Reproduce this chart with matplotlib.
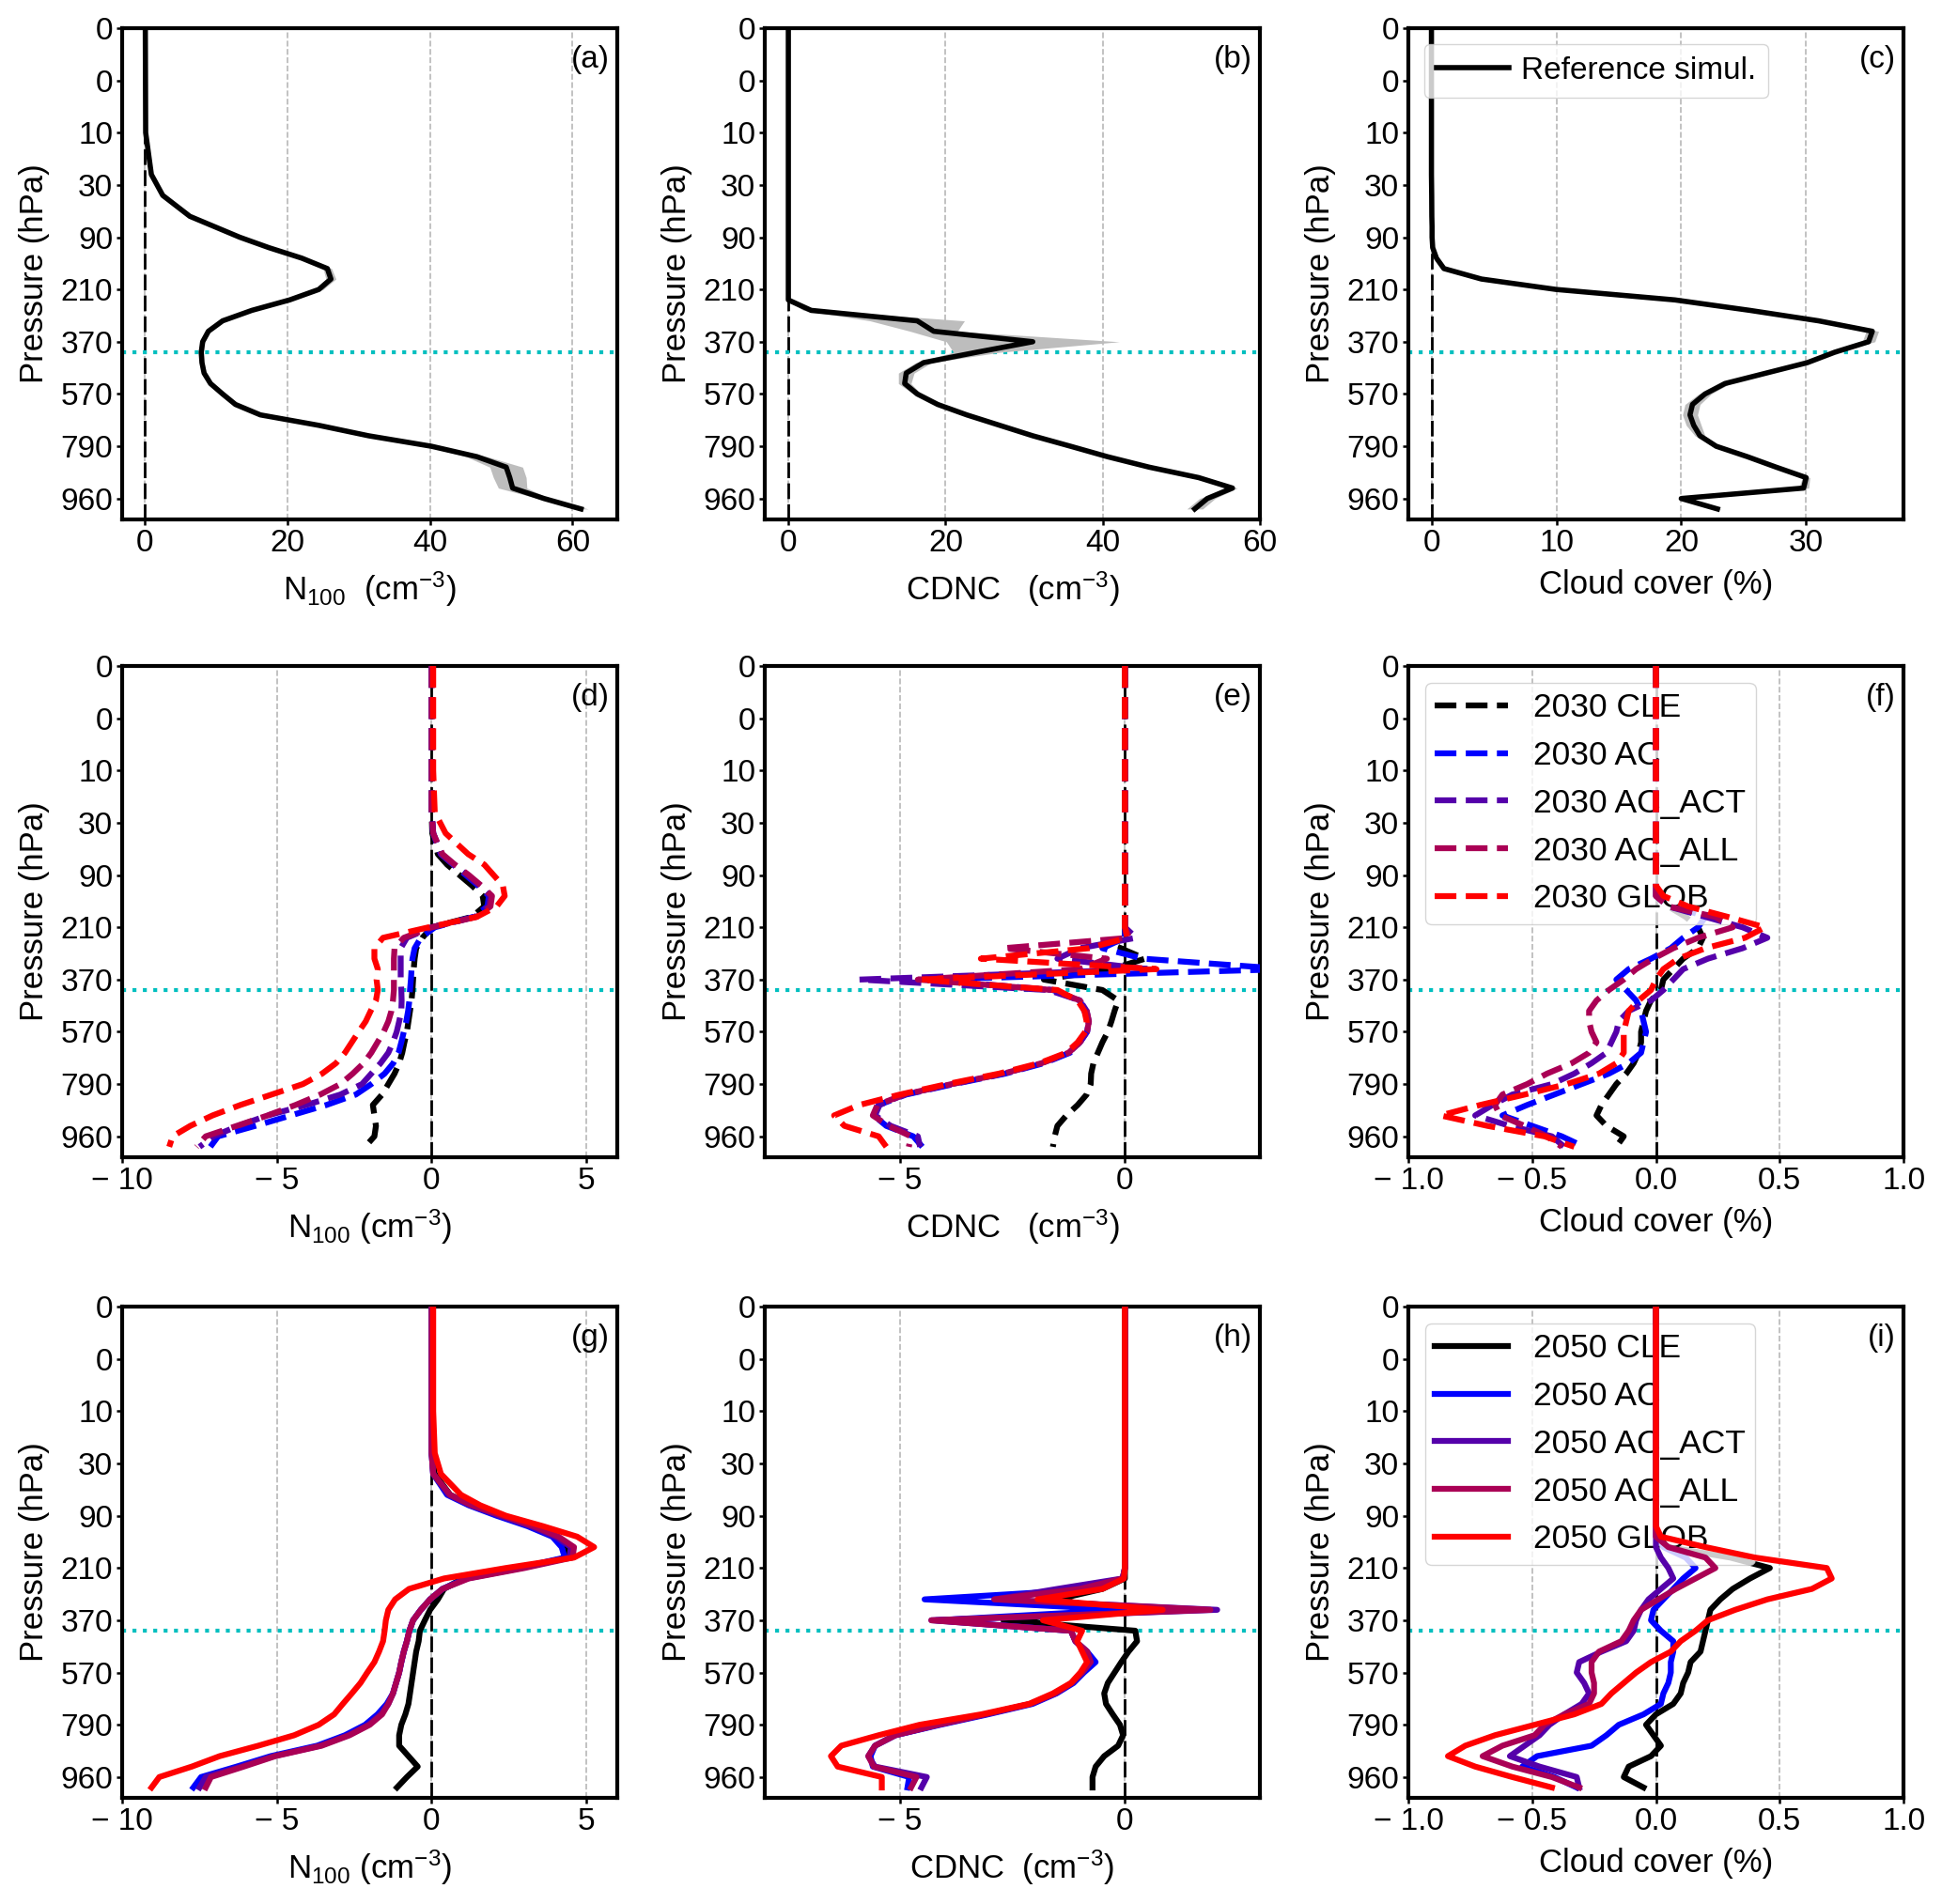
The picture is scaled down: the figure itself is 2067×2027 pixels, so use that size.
import matplotlib
matplotlib.use('Agg')
import matplotlib.pyplot as plt
from matplotlib.ticker import FuncFormatter

plt.rcParams['font.family'] = ['Liberation Sans', 'DejaVu Sans']
plt.rcParams['mathtext.fontset'] = 'custom'
plt.rcParams['mathtext.rm'] = 'Liberation Sans'
plt.rcParams['mathtext.it'] = 'Liberation Sans:italic'
plt.rcParams['font.size'] = 24

# model levels (y axis), pressure labels on every 5th level
LEV = [0, 10, 14, 16, 18] + list(range(19, 47))
TICK_LEV = [0, 5, 10, 15, 20, 25, 30, 35, 40, 45]
TICK_LAB = ['0', '0', '10', '30', '90', '210', '370', '570', '790', '960']
LEV_LINE = 31

# ---- reference simulation (row 1) ----
REF_N100 = [0.05, 0.1, 0.9, 2.5, 6.3,
            9.8, 13.3, 17.4, 22.0, 25.6, 26.1, 24.4, 20.3,
            15.0, 10.9, 8.9, 8.1, 7.9, 8.0, 8.3, 9.2, 10.9, 12.7,
            16.2, 24.4, 31.4, 40.2, 46.6, 50.7, 51.2, 51.6, 56.0, 61.2]
REF_N100_SD = [0.1, 0.1, 0.2, 0.2, 0.3,
               0.3, 0.3, 0.4, 0.5, 0.6, 0.7, 0.6, 0.4,
               0.3, 0.3, 0.3, 0.3, 0.3, 0.3, 0.3, 0.3, 0.3, 0.3,
               0.4, 0.5, 0.6, 0.8, 1.5, 2.3, 2.3, 2.0, 0.8, 1.0]
REF_CDNC = [0, 0, 0, 0, 0,
            0, 0, 0, 0, 0, 0, 0, 0,
            2.9, 16.4, 18.5, 31.1, 24.0, 17.2, 15.0, 14.8, 16.4, 19.0,
            22.7, 26.9, 31.1, 35.9, 40.6, 45.9, 52.2, 56.5, 53.3, 51.7]
REF_CDNC_SD = [0, 0, 0, 0, 0,
               0, 0, 0, 0, 0, 0, 0, 0.2,
               1.0, 6.0, 3.0, 11.0, 3.0, 1.0, 1.0, 0.8, 0.5, 0.3,
               0.3, 0.3, 0.3, 0.3, 0.3, 0.3, 0.4, 0.6, 1.0, 1.0]
REF_CC = [0, 0, 0, 0.02, 0.03,
          0.05, 0.05, 0.1, 0.4, 1.0, 4.0, 10.0, 19.5,
          25.5, 31.0, 35.3, 35.0, 32.3, 30.1, 26.8, 23.5, 21.9, 20.9,
          20.7, 21.0, 21.5, 22.8, 25.3, 27.6, 30.0, 29.8, 20.0, 22.9]
REF_CC_SD = [0, 0, 0, 0, 0,
             0, 0, 0, 0.1, 0.2, 0.2, 0.2, 0.2,
             0.2, 0.3, 0.5, 0.5, 0.3, 0.2, 0.3, 0.4, 0.5, 0.6,
             0.6, 0.6, 0.4, 0.3, 0.3, 0.3, 0.3, 0.4, 0.3, 0.3]

# ---- 2030 differences (row 2) ----
D30_CLE = [0, 0, 0, 0.02, 0.2,
           0.5, 0.9, 1.3, 1.65, 1.7, 1.3, 0.0, -0.3,
           -0.5, -0.55, -0.58, -0.6, -0.62, -0.65, -0.7, -0.75, -0.8, -0.88,
           -0.95, -1.05, -1.2, -1.4, -1.6, -1.9, -1.85, -1.8, -1.85, -2.15]
D30_AC = [0, 0, 0, 0.05, 0.3,
          0.7, 1.1, 1.5, 1.85, 1.8, 1.35, 0.1, -0.35,
          -0.55, -0.62, -0.65, -0.67, -0.7, -0.72, -0.76, -0.82, -0.9, -0.98,
          -1.07, -1.24, -1.52, -1.95, -2.45, -3.4, -4.55, -5.7, -6.9, -7.15]
D30_ACT = [0, 0, 0, 0.05, 0.3,
           0.7, 1.15, 1.55, 1.9, 1.85, 1.4, 0.0, -0.8,
           -1.0, -1.0, -1.0, -1.0, -0.98, -0.97, -0.98, -1.05, -1.13, -1.25,
           -1.4, -1.65, -1.95, -2.25, -2.95, -4.05, -5.3, -6.25, -7.05, -7.5]
D30_ALL = [0, 0, 0, 0.05, 0.35,
           0.75, 1.2, 1.6, 1.95, 1.9, 1.45, 0.0, -0.9,
           -1.2, -1.22, -1.22, -1.22, -1.22, -1.25, -1.3, -1.4, -1.55, -1.75,
           -1.95, -2.2, -2.55, -2.95, -3.6, -4.4, -5.3, -6.3, -7.3, -7.6]
D30_GLOB = [0.05, 0.05, 0.1, 0.45, 1.18,
            1.7, 2.0, 2.3, 2.36, 2.1, 1.46, -0.1, -1.57,
            -1.85, -1.85, -1.74, -1.78, -1.74, -1.8, -1.97, -2.13, -2.36, -2.58,
            -2.8, -3.09, -3.54, -4.16, -5.17, -6.18, -7.08, -7.8, -8.37, -8.48]

E30_CLE = [0, 0, 0, 0, 0,
           0, 0, 0, 0, 0, 0, 0, 0.0,
           -0.1, 0.45, -0.3, -1.8, -0.5, -0.15, -0.23, -0.3, -0.38, -0.5,
           -0.6, -0.7, -0.75, -0.76, -0.85, -1.05, -1.3, -1.5, -1.56, -1.6]
E30_AC = [0, 0, 0, 0, 0,
          0, 0, 0, 0, 0, 0, 0, 0.0,
          -0.5, 0.4, 3.6, -4.4, -1.6, -1.0, -0.9, -0.8, -0.84, -1.0,
          -1.22, -1.8, -2.66, -3.8, -4.86, -5.47, -5.58, -5.3, -4.7, -4.5]
E30_ACT = [0, 0, 0, 0, 0,
           0, 0, 0, 0, 0, 0, 0, 0.25,
           -1.0, -1.5, 0.5, -5.9, -1.7, -1.0, -0.85, -0.8, -0.84, -1.0,
           -1.25, -1.85, -2.7, -3.85, -4.9, -5.45, -5.55, -5.2, -4.6, -4.55]
E30_ALL = [0, 0, 0, 0, 0,
           0, 0, 0, 0, 0, 0, 0, 0.1,
           -2.7, -0.4, -1.0, -4.6, -1.6, -1.0, -0.85, -0.8, -0.84, -1.0,
           -1.25, -1.85, -2.7, -3.85, -4.9, -5.5, -5.6, -5.25, -4.75, -4.8]
E30_GLOB = [0, 0, 0, 0, 0,
            0, 0, 0, 0, 0, 0, 0, 0.05,
            -0.8, -3.2, 0.7, -4.55, -1.5, -1.05, -0.9, -0.85, -0.88, -1.05,
            -1.3, -1.9, -2.8, -3.95, -5.0, -5.9, -6.46, -6.23, -5.47, -5.3]

F30_CLE = [0, 0, 0, 0, 0,
           0, 0, 0, 0, 0.05, 0.12, 0.17, 0.19,
           0.17, 0.11, 0.07, 0.03, 0.02, -0.02, -0.04, -0.05, -0.06, -0.06,
           -0.07, -0.09, -0.12, -0.16, -0.19, -0.22, -0.24, -0.2, -0.13, -0.16]
F30_AC = [0, 0, 0, 0, 0,
          0, 0, 0, 0.02, 0.08, 0.2, 0.17, 0.11,
          0.06, -0.02, -0.11, -0.16, -0.12, -0.08, -0.06, -0.05, -0.04, -0.05,
          -0.06, -0.11, -0.19, -0.3, -0.41, -0.52, -0.62, -0.5, -0.38, -0.29]
F30_ACT = [0, 0, 0, 0, 0,
           0, 0, 0, 0, 0.05, 0.2, 0.35, 0.45,
           0.35, 0.21, 0.11, 0.07, 0.03, -0.02, -0.11, -0.15, -0.16, -0.18,
           -0.2, -0.26, -0.33, -0.42, -0.58, -0.66, -0.73, -0.59, -0.42, -0.37]
F30_ALL = [0, 0, 0, 0, 0,
           0, 0, 0, 0, 0.05, 0.24, 0.31, 0.17,
           0.07, -0.01, -0.08, -0.13, -0.19, -0.24, -0.27, -0.27, -0.26, -0.24,
           -0.27, -0.34, -0.44, -0.52, -0.62, -0.65, -0.63, -0.53, -0.44, -0.38]
F30_GLOB = [0, 0, 0, 0, 0,
            0, 0, 0, 0.03, 0.13, 0.29, 0.44, 0.36,
            0.2, 0.09, 0.03, 0.0, -0.02, -0.07, -0.11, -0.12, -0.13, -0.13,
            -0.13, -0.16, -0.23, -0.36, -0.53, -0.71, -0.87, -0.68, -0.45, -0.33]

# ---- 2050 differences (row 3) ----
G50_CLE = [0, 0, 0, 0.1, 0.6,
           1.3, 2.2, 3.2, 4.0, 4.4, 4.4, 2.8, 1.0,
           0.4, 0.2, -0.05, -0.22, -0.38, -0.42, -0.5, -0.55, -0.6, -0.65,
           -0.7, -0.75, -0.85, -0.98, -1.05, -1.05, -0.75, -0.45, -0.8, -1.12]
G50_AC = [0, 0, 0, 0.05, 0.5,
          1.2, 2.1, 3.1, 3.9, 4.2, 4.3, 2.8, 1.1,
          0.35, -0.05, -0.35, -0.6, -0.72, -0.8, -0.9, -0.98, -1.05, -1.15,
          -1.25, -1.45, -1.75, -2.15, -2.8, -3.7, -5.2, -6.3, -7.45, -7.7]
G50_ACT = [0, 0, 0, 0.05, 0.55,
           1.25, 2.2, 3.2, 4.0, 4.5, 4.45, 2.9, 1.15,
           0.35, -0.05, -0.35, -0.6, -0.72, -0.8, -0.9, -0.98, -1.05, -1.15,
           -1.25, -1.4, -1.65, -2.05, -2.7, -3.6, -5.1, -6.15, -7.3, -7.5]
G50_ALL = [0, 0, 0, 0.05, 0.6,
           1.3, 2.3, 3.3, 4.1, 4.6, 4.55, 3.0, 1.2,
           0.35, -0.05, -0.35, -0.6, -0.72, -0.8, -0.9, -0.98, -1.05, -1.15,
           -1.25, -1.4, -1.6, -2.0, -2.65, -3.55, -5.05, -6.07, -7.13, -7.3]
G50_GLOB = [0.05, 0.05, 0.1, 0.3, 0.95,
            1.57, 2.4, 3.6, 4.7, 5.25, 4.6, 2.4, 0.4,
            -0.73, -1.18, -1.4, -1.48, -1.52, -1.57, -1.7, -1.85, -2.08, -2.3,
            -2.58, -2.87, -3.15, -3.65, -4.44, -5.6, -6.85, -7.75, -8.8, -9.05]

H50_CLE = [0, 0, 0, 0, 0,
           0, 0, 0, 0, 0, 0, 0, 0.0,
           -0.5, -1.5, -0.3, -2.7, 0.23, 0.27, 0.08, -0.08, -0.23, -0.38,
           -0.46, -0.42, -0.27, -0.11, -0.04, -0.15, -0.46, -0.65, -0.72, -0.72]
H50_AC = [0, 0, 0, 0, 0,
          0, 0, 0, 0, 0, 0, 0, -0.05,
          -0.6, -4.45, 0.0, -4.2, -1.2, -1.1, -0.84, -0.65, -0.91, -1.14,
          -1.52, -2.05, -3.04, -4.1, -5.1, -5.55, -5.65, -5.6, -4.79, -4.83]
H50_ACT = [0, 0, 0, 0, 0,
           0, 0, 0, 0, 0, 0, 0, -0.05,
           -1.5, -2.9, 2.05, -4.3, -1.2, -1.1, -0.84, -0.76, -0.95, -1.18,
           -1.55, -2.1, -3.1, -4.15, -5.1, -5.55, -5.7, -5.55, -4.4, -4.52]
H50_ALL = [0, 0, 0, 0, 0,
           0, 0, 0, 0, 0, 0, 0, -0.05,
           -1.0, -2.9, 1.9, -4.3, -1.2, -1.1, -0.84, -0.76, -0.95, -1.18,
           -1.55, -2.1, -3.1, -4.15, -5.1, -5.55, -5.7, -5.58, -4.63, -4.75]
H50_GLOB = [0, 0, 0, 0, 0,
            0, 0, 0, 0, 0, 0, 0, -0.02,
            -0.5, -1.94, 0.84, -1.82, -0.95, -1.06, -0.95, -0.84, -0.99, -1.2,
            -1.6, -2.13, -3.19, -4.56, -5.47, -6.3, -6.53, -6.38, -5.4, -5.4]

I50_CLE = [0, 0, 0, 0, 0,
           0, 0, 0, 0, 0.05, 0.3, 0.46, 0.38,
           0.31, 0.26, 0.22, 0.21, 0.2, 0.19, 0.18, 0.14, 0.13, 0.11,
           0.1, 0.07, 0.0, -0.04, -0.01, 0.02, -0.02, -0.11, -0.13, -0.05]
I50_AC = [0, 0, 0, 0, 0,
          0, 0, 0, 0, 0.03, 0.12, 0.16, 0.11,
          0.07, 0.03, -0.01, -0.02, 0.02, 0.07, 0.07, 0.06, 0.06, 0.05,
          0.03, 0.02, -0.05, -0.15, -0.2, -0.26, -0.48, -0.54, -0.41, -0.32]
I50_ACT = [0, 0, 0, 0, 0,
           0, 0, 0, 0, 0, 0.02, 0.05, 0.07,
           0.02, -0.03, -0.06, -0.08, -0.09, -0.12, -0.22, -0.31, -0.32, -0.29,
           -0.27, -0.3, -0.37, -0.43, -0.47, -0.53, -0.59, -0.47, -0.32, -0.31]
I50_ALL = [0, 0, 0, 0, 0,
           0, 0, 0, 0, 0.05, 0.2, 0.24, 0.16,
           0.08, 0.01, -0.06, -0.09, -0.11, -0.14, -0.23, -0.26, -0.26, -0.25,
           -0.25, -0.27, -0.37, -0.45, -0.49, -0.62, -0.7, -0.58, -0.42, -0.31]
I50_GLOB = [0, 0, 0, 0, 0,
            0, 0, 0, 0.02, 0.2, 0.4, 0.69, 0.71,
            0.63, 0.45, 0.32, 0.21, 0.16, 0.1, 0.06, -0.02, -0.08, -0.13,
            -0.18, -0.22, -0.33, -0.49, -0.65, -0.77, -0.84, -0.73, -0.58, -0.42]

SCEN = ['CLE', 'AC', 'AC_ACT', 'AC_ALL', 'GLOB']
COLORS = ['black', '#0000ff', '#5500aa', '#aa0055', '#ff0000']

ROW2 = [[D30_CLE, D30_AC, D30_ACT, D30_ALL, D30_GLOB],
        [E30_CLE, E30_AC, E30_ACT, E30_ALL, E30_GLOB],
        [F30_CLE, F30_AC, F30_ACT, F30_ALL, F30_GLOB]]
ROW3 = [[G50_CLE, G50_AC, G50_ACT, G50_ALL, G50_GLOB],
        [H50_CLE, H50_AC, H50_ACT, H50_ALL, H50_GLOB],
        [I50_CLE, I50_AC, I50_ACT, I50_ALL, I50_GLOB]]

XLIMS = [[(-3.2, 66.3), (-3.0, 60.0), (-1.85, 37.8)],
         [(-10, 6), (-8, 3), (-1, 1)],
         [(-10, 6), (-8, 3), (-1, 1)]]
XTICKS = [[[0, 20, 40, 60], [0, 20, 40, 60], [0, 10, 20, 30]],
          [[-10, -5, 0, 5], [-5, 0], [-1, -0.5, 0, 0.5, 1]],
          [[-10, -5, 0, 5], [-5, 0], [-1, -0.5, 0, 0.5, 1]]]
XLABELS = [[r'N$_{100}$  (cm$^{-3}$)', r'CDNC   (cm$^{-3}$)', 'Cloud cover (%)'],
           [r'N$_{100}$ (cm$^{-3}$)', r'CDNC   (cm$^{-3}$)', 'Cloud cover (%)'],
           [r'N$_{100}$ (cm$^{-3}$)', r'CDNC  (cm$^{-3}$)', 'Cloud cover (%)']]
PANELS = ['(a)', '(b)', '(c)', '(d)', '(e)', '(f)', '(g)', '(h)', '(i)']


def tick_fmt(ndec):
    def f(v, pos):
        s = f'{abs(v):.{ndec}f}'
        return '\u2212 ' + s if v < 0 else s
    return FuncFormatter(f)


fig = plt.figure(figsize=(20.67, 20.27), dpi=100)
lefts = [0.0629, 0.3938, 0.7252]
bottoms = [0.7272, 0.3922, 0.0557]
axes = [[fig.add_axes([l, b, 0.255, 0.258]) for l in lefts] for b in bottoms]

for r in range(3):
    for c in range(3):
        ax = axes[r][c]
        ax.axvline(0, color='black', lw=2.0, ls=(0, (6, 2)), zorder=2)
        ax.axhline(LEV_LINE, color='#00bfbf', lw=3, ls=':', zorder=2)
        ax.set_xlim(*XLIMS[r][c])
        ax.set_ylim(47, 0)
        ax.set_yticks(TICK_LEV, TICK_LAB)
        ax.set_xticks(XTICKS[r][c])
        ax.xaxis.set_major_formatter(tick_fmt(1 if c == 2 and r > 0 else 0))
        ax.grid(axis='x', ls='--', color='#b8b8b8', lw=1.2)
        ax.set_axisbelow(True)
        ax.set_xlabel(XLABELS[r][c], fontsize=25, labelpad=9)
        ax.set_ylabel('Pressure (hPa)', fontsize=25, labelpad=8)
        ax.tick_params(labelsize=24, length=4, width=1.8, pad=3)
        for sp in ax.spines.values():
            sp.set_linewidth(3.0)
        ax.text(0.985, 0.965, PANELS[3 * r + c], transform=ax.transAxes,
                ha='right', va='top', fontsize=24)

# row 1: reference simulation with spread
for ax, vals, sd in zip(axes[0], [REF_N100, REF_CDNC, REF_CC],
                        [REF_N100_SD, REF_CDNC_SD, REF_CC_SD]):
    lo = [v - s for v, s in zip(vals, sd)]
    hi = [v + s for v, s in zip(vals, sd)]
    ax.fill_betweenx(LEV, lo, hi, color='#bdbdbd', lw=0, zorder=3)
    ax.plot(vals, LEV, color='black', lw=4, label='Reference simul.', zorder=4)
axes[0][2].legend(loc='upper left', fontsize=24, handlelength=2.3,
                  handletextpad=0.4)

# rows 2 and 3: scenario differences
for row, year, ls in [(1, '2030', '--'), (2, '2050', '-')]:
    data = ROW2 if row == 1 else ROW3
    for c in range(3):
        ax = axes[row][c]
        for k, (vals, name, col) in enumerate(zip(data[c], SCEN, COLORS)):
            ax.plot(vals, LEV, color=col, lw=4.5, ls=ls, label=f'{year} {name}',
                    zorder=4 + k)
    axes[row][2].legend(loc='upper left', fontsize=25.5, handlelength=2.2,
                        handletextpad=0.75, labelspacing=0.5, borderpad=0.3)

fig.savefig('out.png', dpi=100)
